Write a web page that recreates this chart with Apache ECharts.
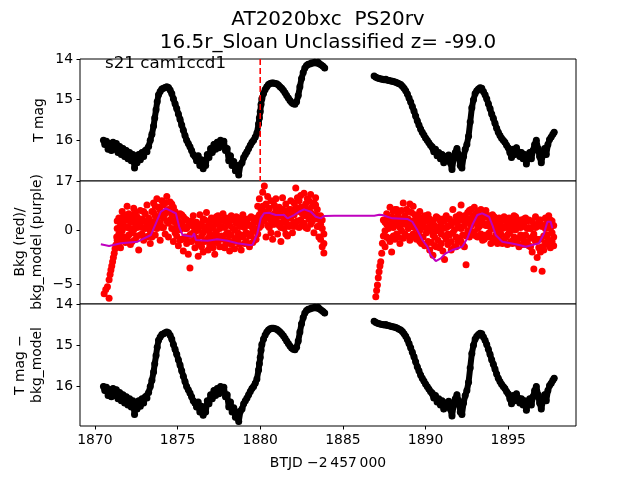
<!DOCTYPE html>
<html><head><meta charset="utf-8">
<script src="https://cdn.jsdelivr.net/npm/echarts@6/dist/echarts.min.js"></script>
<style>html,body{margin:0;padding:0;background:#fff}#c{width:640px;height:480px}</style>
</head><body><div id="c"></div>
<script>
// ---------- text ----------
const titleLine1 = 'AT2020bxc  PS20rv';
const titleLine2 = '16.5r_Sloan Unclassified z= -99.0';
const sectorLabel = 's21 cam1ccd1';
const xLabel = 'BTJD \u22122\u2009457\u2009000';
const yLabel1 = 'T mag';
const yLabel2 = 'Bkg (red)/\nbkg_model (purple)';
const yLabel3 = 'T mag \u2212\nbkg_model';

// ---------- ticks ----------
const xTicks = [1870, 1875, 1880, 1885, 1890, 1895];
const magTicks = [14, 15, 16, 17];
const bkgTicks = [-5, 0];
const corrTicks = [14, 15, 16];
const flareTime = 1880.0;

// ---------- light curve (T mag), segment 1 and 2 : [BTJD, mag] ----------
const lcSeg1 = [
[1870.52,16.00],[1870.60,16.10],[1870.70,16.02],[1870.80,16.22],[1870.90,16.08],[1871.00,16.25],
[1871.10,16.05],[1871.20,16.22],[1871.30,16.08],[1871.40,16.30],[1871.50,16.15],[1871.60,16.35],
[1871.70,16.20],[1871.80,16.40],[1871.90,16.25],[1872.00,16.45],[1872.10,16.30],[1872.20,16.50],
[1872.30,16.35],[1872.40,16.68],[1872.45,16.45],[1872.55,16.55],[1872.65,16.35],[1872.75,16.48],
[1872.85,16.30],[1872.95,16.40],[1873.05,16.25],[1873.15,16.28],[1873.25,16.15],[1873.35,16.00],
[1873.45,15.85],[1873.55,15.65],[1873.62,15.45],[1873.70,15.25],[1873.77,15.05],[1873.85,14.88],
[1873.95,14.80],[1874.05,14.74],[1874.15,14.72],[1874.25,14.70],[1874.35,14.68],[1874.45,14.70],
[1874.55,14.76],[1874.65,14.85],[1874.75,14.98],[1874.85,15.10],[1874.95,15.22],[1875.05,15.35],
[1875.15,15.48],[1875.25,15.62],[1875.35,15.75],[1875.45,15.88],[1875.55,16.00],[1875.65,16.08],
[1875.75,16.16],[1875.85,16.25],[1875.95,16.35],[1876.05,16.40],[1876.15,16.50],[1876.25,16.38],
[1876.35,16.62],[1876.45,16.48],[1876.55,16.70],[1876.62,16.55],[1876.70,16.62],[1876.80,16.35],
[1876.90,16.42],[1877.00,16.20],[1877.10,16.30],[1877.20,16.10],[1877.30,16.22],[1877.40,16.05],
[1877.50,16.18],[1877.60,16.00],[1877.70,16.12],[1877.80,16.02],[1877.90,16.25],[1878.00,16.20],
[1878.10,16.50],[1878.20,16.38],[1878.30,16.62],[1878.40,16.52],[1878.50,16.75],[1878.60,16.62],
[1878.70,16.85],[1878.80,16.60],[1878.90,16.55],[1879.00,16.42],[1879.10,16.35],[1879.20,16.28],
[1879.30,16.20],[1879.40,16.12],[1879.50,16.05],[1879.60,16.00],[1879.70,15.92],[1879.80,15.82],
[1879.90,15.60],[1879.95,15.45],[1880.00,15.30],[1880.05,15.12],[1880.10,14.98],[1880.20,14.85],
[1880.30,14.75],[1880.40,14.68],[1880.50,14.63],[1880.60,14.60],[1880.70,14.59],[1880.80,14.59],
[1880.90,14.60],[1881.00,14.61],[1881.10,14.64],[1881.20,14.68],[1881.30,14.72],[1881.40,14.77],
[1881.50,14.83],[1881.60,14.90],[1881.70,14.96],[1881.80,15.02],[1881.90,15.07],[1882.00,15.10],
[1882.10,15.11],[1882.20,15.05],[1882.30,14.90],[1882.40,14.68],[1882.50,14.48],[1882.60,14.33],
[1882.70,14.22],[1882.80,14.16],[1882.90,14.13],[1883.00,14.12],[1883.10,14.10],[1883.20,14.10],
[1883.30,14.08],[1883.40,14.10],[1883.50,14.08],[1883.60,14.12],[1883.70,14.15],[1883.80,14.18],
[1883.90,14.22]
];
const lcSeg2 = [
[1886.89,14.42],[1887.00,14.45],[1887.10,14.47],[1887.20,14.48],[1887.30,14.49],[1887.40,14.50],
[1887.50,14.51],[1887.60,14.50],[1887.70,14.52],[1887.80,14.53],[1887.90,14.54],[1888.00,14.55],
[1888.10,14.56],[1888.20,14.57],[1888.30,14.59],[1888.40,14.61],[1888.50,14.63],[1888.60,14.67],
[1888.70,14.72],[1888.80,14.78],[1888.90,14.86],[1889.00,14.96],[1889.10,15.06],[1889.20,15.17],
[1889.30,15.28],[1889.40,15.40],[1889.50,15.52],[1889.60,15.62],[1889.70,15.72],[1889.80,15.80],
[1889.90,15.87],[1890.00,15.94],[1890.10,16.00],[1890.20,16.06],[1890.30,16.12],[1890.40,16.16],
[1890.50,16.28],[1890.60,16.22],[1890.70,16.38],[1890.80,16.30],[1890.90,16.45],[1891.00,16.35],
[1891.10,16.55],[1891.20,16.40],[1891.30,16.48],[1891.40,16.36],[1891.50,16.55],[1891.60,16.72],
[1891.70,16.45],[1891.80,16.30],[1891.90,16.20],[1892.00,16.35],[1892.10,16.62],[1892.20,16.68],
[1892.30,16.40],[1892.40,16.22],[1892.50,16.10],[1892.60,15.90],[1892.70,15.55],[1892.80,15.20],
[1892.90,15.00],[1893.00,14.85],[1893.10,14.78],[1893.20,14.74],[1893.30,14.71],[1893.40,14.72],
[1893.50,14.80],[1893.60,14.88],[1893.70,14.98],[1893.80,15.10],[1893.90,15.22],[1894.00,15.35],
[1894.10,15.46],[1894.20,15.58],[1894.30,15.70],[1894.40,15.80],[1894.50,15.88],[1894.60,15.95],
[1894.70,16.00],[1894.80,16.05],[1894.90,16.12],[1895.00,16.18],[1895.10,16.30],[1895.20,16.42],
[1895.30,16.22],[1895.40,16.35],[1895.50,16.18],[1895.60,16.28],[1895.70,16.40],[1895.80,16.30],
[1895.90,16.45],[1896.00,16.35],[1896.10,16.58],[1896.20,16.40],[1896.30,16.30],[1896.40,16.45],
[1896.50,16.25],[1896.60,16.10],[1896.70,16.00],[1896.80,16.20],[1896.90,16.40],[1897.00,16.55],
[1897.10,16.35],[1897.20,16.20],[1897.30,16.35],[1897.40,16.10],[1897.50,15.98],[1897.60,15.92],
[1897.70,15.85],[1897.78,15.80]
];

// ---------- background flux rows: [BTJD, value, value, ...] ----------
const bkgRows1 = [
[1870.56,-5.9],[1870.66,-5.5],[1870.76,-5.25],[1870.86,-6.34,-4.6],[1870.92,-4.1],[1870.97,-3.68],
[1871.02,-3.3],[1871.07,-2.9],[1871.12,-2.5],[1871.17,-2.12],[1871.22,-1.7],[1871.27,-1.34],[1871.32,-0.6],
[1871.35,0.2,-0.9,0.9],[1871.45,1.2,-0.3,-1.2],[1871.55,0.5,-1.6,0.8],[1871.65,1.8,0.0,-0.8],[1871.75,-0.6,0.9,1.5],
[1871.85,1.4,-1.1,0.4],[1871.95,0.3,2.3,-0.9],[1872.05,-0.4,1.0,1.6],[1872.15,0.8,-1.3,0.2],[1872.25,1.5,-0.2,-1.0],
[1872.35,0.1,2.1,1.0],[1872.45,-0.8,0.6,1.7],[1872.55,1.3,-0.5,0.3],[1872.65,0.4,-1.8,1.1],[1872.75,1.9,0.7,-0.4],
[1872.85,-0.3,1.1,0.3],[1872.95,0.9,-0.9,1.8],[1873.05,1.6,0.2,-0.6],[1873.15,-0.6,2.4,0.5],[1873.25,0.6,1.2,-0.5],
[1873.35,-1.2,0.9,0.0],[1873.45,1.8,0.4,-0.6],[1873.55,2.6,0.8,1.7],[1873.65,1.4,-0.4,2.3],[1873.75,3.0,1.1,0.2],
[1873.85,0.6,2.2,1.3],[1873.95,1.9,-0.9,0.7],[1874.05,2.8,0.3,1.5],[1874.15,1.2,2.4,0.3],[1874.25,-0.3,1.6,2.6],
[1874.35,3.2,0.9,1.8],[1874.45,2.0,-0.6,0.7],[1874.55,1.0,2.7,1.8],[1874.65,0.2,1.5,2.5],[1874.75,2.2,-1.0,0.9],
[1874.85,0.8,1.8,-0.2],[1874.95,-0.5,1.2,0.4],[1875.05,0.9,-1.4,0.2],[1875.15,1.6,0.1,-0.9],[1875.25,-0.8,0.7,1.5],
[1875.35,1.3,-1.9,0.4],[1875.45,0.2,-0.6,1.1],[1875.55,1.0,-1.2,0.2],[1875.65,-2.2,0.5,-1.0],[1875.75,-3.5,-0.4,0.8],
[1875.85,0.9,-1.0,-0.3],[1875.95,-0.2,1.4,0.4],[1876.05,-1.6,0.3,-0.6],[1876.15,0.8,-0.8,0.0],[1876.25,-2.4,0.1,-1.1],
[1876.35,1.5,-1.3,0.4],[1876.45,-0.5,0.6,-1.5],[1876.55,-2.0,1.1,-0.2],[1876.65,0.2,-1.0,1.0],[1876.75,-0.9,1.7,0.1],
[1876.85,0.5,-1.8,-0.7],[1876.95,-0.3,0.9,-1.4],[1877.05,1.2,-1.2,0.2],[1877.15,-0.7,0.4,-1.6],[1877.25,0.9,-2.2,-0.4],
[1877.35,-0.1,1.3,-1.1],[1877.45,0.6,-1.0,1.4],[1877.55,-1.5,0.2,-0.6],[1877.65,1.0,-0.5,0.4],[1877.75,-0.8,1.6,-1.5],
[1877.85,0.3,-1.6,0.9],[1877.95,1.2,-0.3,-1.2],[1878.05,-0.9,0.7,-0.2],[1878.15,0.5,-1.9,0.9],[1878.25,-0.4,1.4,-1.3],
[1878.35,1.0,-1.1,0.2],[1878.45,-1.7,0.1,-0.8],[1878.55,0.7,-0.7,1.3],[1878.65,-0.2,1.2,-0.9],[1878.75,-1.3,0.4,1.0],
[1878.85,0.9,-1.8,-0.4],[1878.95,-0.6,1.5,0.4],[1879.05,0.3,-1.2,1.0],[1879.15,-1.0,0.8,-0.2],[1879.25,1.1,-0.3,-1.2],
[1879.35,-1.5,0.5,-0.5],[1879.45,-0.4,1.3,0.5],[1879.55,0.6,-1.1,0.1],[1879.65,-0.9,0.2,1.0],[1879.75,1.2,0.0,-0.8],
[1879.85,2.3,0.8,-0.3],[1879.95,1.5,3.0,0.3],[1880.05,0.5,2.0,1.2],[1880.15,1.2,3.6,2.3],[1880.25,4.2,0.9,1.8],
[1880.35,2.5,-0.6,1.2],[1880.45,1.7,3.2,0.5],[1880.55,0.3,2.1,1.3],[1880.65,1.0,2.8,-0.2],[1880.75,-0.8,1.5,0.6],
[1880.85,2.4,0.6,1.6],[1880.95,1.1,3.0,2.0],[1881.05,-0.3,1.8,0.8],[1881.15,2.2,0.5,1.4],[1881.25,1.4,-1.0,0.3],
[1881.35,3.1,0.8,2.0],[1881.45,0.2,1.9,1.1],[1881.55,2.5,1.1,-0.3],[1881.65,-0.5,1.5,0.6],[1881.75,2.0,0.4,1.3],
[1881.85,1.2,2.8,2.0],[1881.95,0.6,-0.2,1.6],[1882.05,2.6,1.5,0.4],[1882.15,4.0,0.8,2.2],[1882.25,1.9,3.1,0.9],
[1882.35,2.8,0.3,1.8],[1882.45,1.0,3.3,2.2],[1882.55,2.2,1.6,0.5],[1882.65,3.5,0.7,2.2],[1882.75,1.4,2.5,0.3],
[1882.85,0.2,3.0,1.8],[1882.95,2.0,1.1,2.8],[1883.05,3.4,1.7,0.6],[1883.15,0.9,2.3,1.5],[1883.25,2.6,-0.2,1.2],
[1883.35,1.5,3.1,2.4],[1883.45,0.4,2.0,1.1],[1883.55,1.2,-0.6,0.4],[1883.65,-0.8,0.6,1.4],[1883.75,-1.5,1.0,0.2],
[1883.85,-0.3,-2.1,-1.2]
];
const bkgRows2 = [
[1886.99,-6.19],[1887.04,-5.6],[1887.09,-5.09],[1887.14,-4.4],[1887.19,-3.84],[1887.24,-3.3],
[1887.29,-2.9],[1887.35,-2.12],[1887.39,-1.18],[1887.45,-0.5,1.0],
[1887.55,0.8,-1.5,0.0],[1887.65,1.6,-0.6,0.6],[1887.75,0.2,1.2,-0.7],[1887.85,2.2,-1.0,0.4],[1887.95,0.9,-2.0,1.3],
[1888.05,1.8,0.3,-0.5],[1888.15,-0.8,2.0,0.8],[1888.25,1.2,-0.3,2.0],[1888.35,0.5,1.6,-0.6],[1888.45,-1.2,0.9,0.3],
[1888.55,1.9,0.0,1.1],[1888.65,2.6,-0.7,0.8],[1888.75,0.6,1.4,-0.3],[1888.85,-0.5,2.0,0.9],[1888.95,1.1,0.2,1.8],
[1889.05,2.5,-0.9,0.7],[1889.15,0.4,1.7,-0.5],[1889.25,-0.3,2.3,0.9],[1889.35,1.5,0.3,-0.6],[1889.45,-0.8,1.0,0.2],
[1889.55,0.7,-0.4,1.4],[1889.65,1.8,0.0,-1.0],[1889.75,-1.2,1.2,0.5],[1889.85,0.4,-0.6,1.0],[1889.95,1.4,-1.4,0.3],
[1890.05,-0.2,0.9,-1.3],[1890.15,-1.0,0.3,1.5],[1890.25,1.1,-1.8,0.4],[1890.35,0.0,-1.1,0.9],[1890.45,0.9,-2.3,-0.4],
[1890.55,-0.6,0.5,-1.4],[1890.65,-1.5,1.3,0.0],[1890.75,0.3,-0.9,1.2],[1890.85,1.0,-1.6,0.2],[1890.95,-0.3,0.7,-1.2],
[1891.05,-1.9,0.2,1.1],[1891.15,-2.7,0.9,-0.5],[1891.25,-0.8,1.4,0.3],[1891.35,0.4,-1.3,-0.3],[1891.45,1.1,-0.4,0.5],
[1891.55,-1.0,0.6,-1.8],[1891.65,2.0,-0.2,0.8],[1891.75,0.8,-1.5,0.1],[1891.85,-0.6,1.3,-1.5],[1891.95,0.3,-1.0,0.9],
[1892.05,1.5,-0.7,0.4],[1892.15,2.4,0.2,-1.0],[1892.25,-0.4,1.0,-1.3],[1892.35,-1.5,0.5,1.4],[1892.45,-3.2,1.2,-0.5],
[1892.55,0.0,1.7,0.8],[1892.65,1.1,-0.6,1.9],[1892.75,0.5,2.0,-0.4],[1892.85,1.4,-0.1,0.8],[1892.95,2.2,0.7,-0.2],
[1893.05,1.0,-0.5,1.6],[1893.15,1.8,0.2,-0.6],[1893.25,0.4,1.4,0.7],[1893.35,2.0,-0.3,1.0],[1893.45,1.1,0.6,-0.9],
[1893.55,-0.8,1.5,0.6],[1893.65,0.5,1.9,-0.4],[1893.75,1.3,-0.6,0.5],[1893.85,-0.2,0.8,1.4],[1893.95,1.0,-1.2,0.3],
[1894.05,0.2,1.5,-0.7],[1894.15,-1.0,0.6,1.3],[1894.25,0.9,-0.4,0.2],[1894.35,-1.2,0.3,1.0],[1894.45,1.2,-0.8,0.0],
[1894.55,-0.3,0.5,-1.1],[1894.65,-1.2,1.0,0.2],[1894.75,0.4,-0.9,1.3],[1894.85,-0.6,1.1,0.3],[1894.95,0.8,-1.3,-0.4],
[1895.05,-0.2,0.5,1.2],[1895.15,1.1,-1.0,0.0],[1895.25,-1.2,0.2,0.9],[1895.35,0.6,-0.6,1.4],[1895.45,-1.0,1.3,0.1],
[1895.55,0.3,-1.2,0.8],[1895.65,-0.7,0.9,-1.5],[1895.75,1.0,-0.4,0.3],[1895.85,-1.3,0.4,-0.5],[1895.95,0.7,-0.9,1.1],
[1896.05,-0.4,1.2,-1.3],[1896.15,0.9,-1.1,0.2],[1896.25,-1.4,0.3,1.0],[1896.35,0.2,-0.7,-1.5],[1896.45,-2.0,0.9,-0.6],
[1896.55,-3.6,-0.3,0.6],[1896.65,1.3,-1.0,0.3],[1896.75,-2.5,0.4,-0.8],[1896.85,0.6,-1.6,1.0],[1896.95,-0.8,1.0,-2.0],
[1897.05,-3.8,-1.5,0.4],[1897.15,0.5,-0.5,-1.8],[1897.25,1.2,-1.1,0.2],[1897.35,-0.4,0.7,-1.3],[1897.45,1.4,-0.9,0.3],
[1897.55,0.2,-1.6,1.0],[1897.65,0.9,-0.2,-1.0],[1897.75,-0.6,0.5,-1.4]
];

// ---------- background model: [BTJD, value] ----------
const bkgModel = [
[1870.36,-1.27],[1870.86,-1.43],[1871.57,-1.18],[1872.58,-1.03],[1872.98,-0.71],[1873.39,-0.40],
[1873.69,0.69],[1873.99,1.78],[1874.29,2.10],[1874.69,1.78],[1874.90,1.63],[1875.10,0.37],
[1875.30,-0.40],[1875.90,-0.56],[1876.00,-0.24],[1876.11,-0.87],[1876.81,-0.94],[1877.41,-0.81],
[1878.02,-0.94],[1878.62,-1.18],[1879.33,-1.34],[1879.53,-1.34],[1879.83,-0.24],[1880.03,1.16],
[1880.23,1.63],[1880.54,1.69],[1880.94,1.47],[1881.45,1.47],[1881.65,1.16],[1882.05,1.47],
[1882.35,1.78],[1882.65,2.00],[1883.06,1.78],[1883.36,1.31],[1883.66,1.16],[1883.86,1.38],
[1884.47,1.41],[1886.90,1.41],[1887.20,1.50],[1887.39,1.47],[1887.69,1.31],[1887.99,1.16],
[1888.90,1.10],[1889.20,0.84],[1889.50,0.07],[1889.81,-0.87],[1890.11,-1.50],[1890.31,-2.28],
[1890.62,-2.84],[1890.92,-2.59],[1891.22,-2.12],[1891.62,-1.81],[1892.22,-1.50],[1892.53,-0.71],
[1892.83,0.53],[1893.13,1.47],[1893.43,1.63],[1893.84,1.31],[1894.04,0.53],[1894.24,-0.40],
[1894.64,-1.03],[1895.15,-1.18],[1895.65,-1.34],[1896.06,-1.50],[1896.46,-1.34],[1896.86,-1.18],
[1897.17,-0.24],[1897.37,0.84],[1897.57,0.84],[1897.67,0.22]
];

// ---------- build chart ----------
const FONT = '"DejaVu Sans", sans-serif';
const TICK = 13.9;
const TITLE = 20;
const expand = rows => rows.flatMap(([t, ...vs]) => vs.map(v => [t, v]));
const bkgPoints = expand(bkgRows1).concat(expand(bkgRows2));

const GL = 80, GW = 496;
const grids = [
  {left: GL, width: GW, top: 59, height: 122},
  {left: GL, width: GW, top: 181, height: 123},
  {left: GL, width: GW, top: 304, height: 122}
].map(g => Object.assign(g, {show: true, borderColor: '#000', borderWidth: 1, backgroundColor: '#fff'}));

const xBase = i => ({
  type: 'value', gridIndex: i, min: 1869.1, max: 1899.1,
  splitLine: {show: false}, axisLine: {show: false},
  axisTick: {show: i === 2, length: 3.5, lineStyle: {color: '#000', width: 1}, customValues: xTicks},
  axisLabel: {show: i === 2, margin: 7, color: '#000', fontFamily: FONT, fontSize: TICK, customValues: xTicks,
    formatter: v => String(v)}
});
const yBase = (i, min, max, ticks, inverse) => ({
  type: 'value', gridIndex: i, min: min, max: max, inverse: inverse,
  splitLine: {show: false}, axisLine: {show: false},
  axisTick: {show: true, length: 3.5, lineStyle: {color: '#000', width: 1}, customValues: ticks},
  axisLabel: {show: true, margin: 7, color: '#000', fontFamily: FONT, fontSize: TICK, customValues: ticks,
    formatter: v => String(v).replace('-', '\u2212')}
});

const lcSeries = (data, idx) => ({
  type: 'line', xAxisIndex: idx, yAxisIndex: idx, data: data,
  symbol: 'circle', symbolSize: 7, showSymbol: true,
  itemStyle: {color: '#000', opacity: 1}, lineStyle: {color: '#000', width: 6, cap: 'round', join: 'round'},
  animation: false, silent: true, z: 3
});

const txt = (text, x, y, size, extra) => Object.assign({
  type: 'text', x: x, y: y, silent: true, z: 10,
  style: Object.assign({text: text, fill: '#000', font: size + 'px ' + FONT,
    align: 'center', verticalAlign: 'middle', textAlign: 'center', textVerticalAlign: 'middle', lineHeight: 17})
}, extra || {});

const chart = echarts.init(document.getElementById('c'), null, {renderer: 'canvas'});
chart.setOption({
  backgroundColor: '#fff',
  animation: false,
  grid: grids,
  xAxis: [xBase(0), xBase(1), xBase(2)],
  yAxis: [
    yBase(0, 14, 17, magTicks, true),
    yBase(1, -6.87, 4.66, bkgTicks, false),
    yBase(2, 14, 16.96, corrTicks, true)
  ],
  series: [
    lcSeries(lcSeg1, 0), lcSeries(lcSeg2, 0),
    {type: 'line', xAxisIndex: 0, yAxisIndex: 0, data: [[flareTime, 14], [flareTime, 17]],
     symbol: 'none', lineStyle: {color: '#ff0000', width: 1.6, type: [6, 3]}, animation: false, silent: true, z: 4},
    {type: 'scatter', xAxisIndex: 1, yAxisIndex: 1, data: bkgPoints, symbol: 'circle', symbolSize: 7,
     itemStyle: {color: '#ff0000', opacity: 1}, animation: false, silent: true, z: 2},
    {type: 'line', xAxisIndex: 1, yAxisIndex: 1, data: bkgModel, showSymbol: false, symbol: 'none',
     lineStyle: {color: '#bf00bf', width: 2}, animation: false, silent: true, z: 5},
    lcSeries(lcSeg1, 2), lcSeries(lcSeg2, 2)
  ],
  graphic: [
    txt(titleLine1, 328, 20, TITLE),
    txt(titleLine2, 328, 43, TITLE),
    txt(sectorLabel, 105, 64, 16.7, {style: {text: sectorLabel, fill: '#000', font: '16.7px ' + FONT,
      align: 'left', verticalAlign: 'middle', textAlign: 'left', textVerticalAlign: 'middle'}}),
    txt(xLabel, 328, 463, TICK),
    txt(yLabel1, 39, 120, TICK, {rotation: Math.PI / 2}),
    txt(yLabel2, 28.5, 242, TICK, {rotation: Math.PI / 2}),
    txt(yLabel3, 29, 365, TICK, {rotation: Math.PI / 2})
  ]
});
</script></body></html>
